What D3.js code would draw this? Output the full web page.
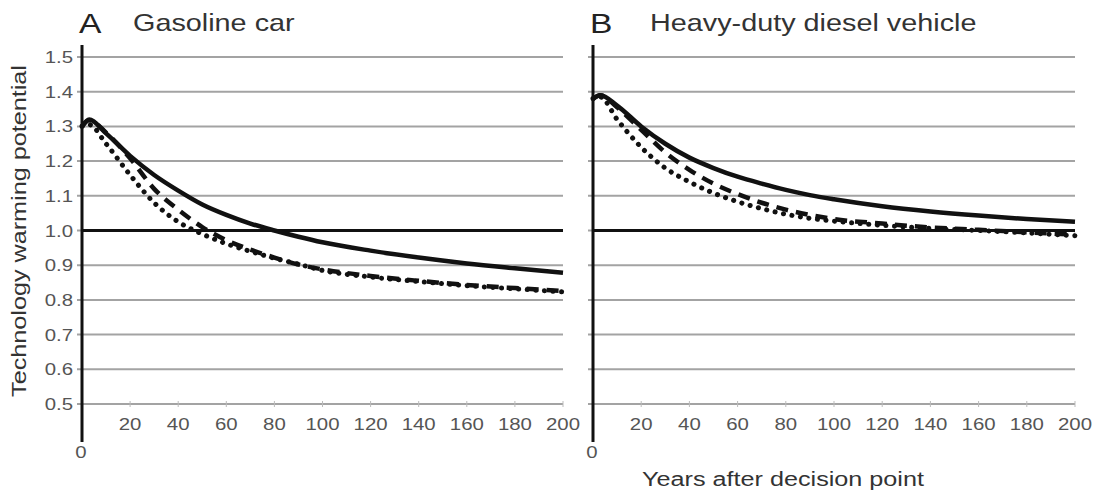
<!DOCTYPE html>
<html lang="en">
<head>
<meta charset="UTF-8">
<title>Technology warming potential</title>
<script src="https://cdnjs.cloudflare.com/ajax/libs/d3/7.8.5/d3.min.js"></script>
<style>
  body { margin: 0; background: #fff; }
  svg text { font-family: "Liberation Sans", Arial, sans-serif; }
</style>
</head>
<body>
<svg id="chart" width="1094" height="492"></svg>
<script>
// years after decision point
var years = [0, 3, 10, 20, 30, 40, 50, 60, 70, 80, 90, 100, 120, 140, 160, 180, 200];

// A: gasoline car
var gasSolid  = [1.30, 1.32, 1.28, 1.215, 1.16, 1.115, 1.075, 1.045, 1.02, 1.0, 0.982, 0.966, 0.942, 0.922, 0.905, 0.891, 0.878];
var gasDashed = [1.30, 1.318, 1.282, 1.208, 1.12, 1.06, 1.01, 0.972, 0.945, 0.922, 0.902, 0.888, 0.869, 0.855, 0.843, 0.834, 0.826];
var gasDotted = [1.30, 1.305, 1.25, 1.16, 1.08, 1.025, 0.99, 0.962, 0.94, 0.92, 0.903, 0.885, 0.866, 0.853, 0.841, 0.832, 0.823];

// B: heavy-duty diesel vehicle
var hdvSolid  = [1.38, 1.39, 1.36, 1.30, 1.25, 1.21, 1.18, 1.155, 1.135, 1.117, 1.102, 1.09, 1.07, 1.055, 1.043, 1.033, 1.025];
var hdvDashed = [1.38, 1.39, 1.355, 1.29, 1.225, 1.175, 1.135, 1.105, 1.08, 1.06, 1.045, 1.033, 1.02, 1.009, 1.002, 0.995, 0.988];
var hdvDotted = [1.38, 1.385, 1.32, 1.24, 1.18, 1.14, 1.108, 1.083, 1.063, 1.047, 1.035, 1.027, 1.015, 1.006, 1.0, 0.993, 0.985];

var yTicks = [0.5, 0.6, 0.7, 0.8, 0.9, 1.0, 1.1, 1.2, 1.3, 1.4, 1.5];
var xTicks = [20, 40, 60, 80, 100, 120, 140, 160, 180, 200];

var svg = d3.select('#chart');
var y = d3.scaleLinear().domain([0.5, 1.5]).range([404, 57]);
var sx = 1.2; // the original lettering is wider than Arial

function label(x, yy, str, size, anchor, color, rot) {
  return svg.append('text')
    .attr('transform', 'translate(' + x + ',' + yy + ')' + (rot ? ' rotate(' + rot + ')' : '') + ' scale(' + sx + ',1)')
    .attr('text-anchor', anchor)
    .attr('font-size', size)
    .attr('fill', color)
    .text(str);
}

function panel(x0, x1, letter, solid, dashed, dotted) {
  var x = d3.scaleLinear().domain([0, 200]).range([x0, x1]);
  var g = svg.append('g');

  // gridlines
  g.selectAll('.grid').data(yTicks).enter().append('line')
    .attr('x1', x(0) - 5).attr('x2', x(200))
    .attr('y1', function(d) { return y(d); })
    .attr('y2', function(d) { return y(d); })
    .attr('stroke', '#a3a3a3').attr('stroke-width', 2);

  // small ticks on the bottom line
  g.selectAll('.xt').data(xTicks).enter().append('line')
    .attr('x1', function(d) { return x(d); })
    .attr('x2', function(d) { return x(d); })
    .attr('y1', y(0.5) - 3).attr('y2', y(0.5) + 3)
    .attr('stroke', '#bbb').attr('stroke-width', 1);

  // reference line at 1.0
  g.append('line')
    .attr('x1', x(0)).attr('x2', x(200))
    .attr('y1', y(1)).attr('y2', y(1))
    .attr('stroke', '#111').attr('stroke-width', 3);

  var line = d3.line()
    .x(function(d, i) { return x(years[i]); })
    .y(function(d) { return y(d); })
    .curve(d3.curveMonotoneX);

  g.append('path').attr('d', line(dotted))
    .attr('fill', 'none').attr('stroke', '#111').attr('stroke-width', 5)
    .attr('stroke-linecap', 'round').attr('stroke-dasharray', '0.1 8.5');
  g.append('path').attr('d', line(dashed))
    .attr('fill', 'none').attr('stroke', '#111').attr('stroke-width', 4.5)
    .attr('stroke-dasharray', '12 8');
  g.append('path').attr('d', line(solid))
    .attr('fill', 'none').attr('stroke', '#111').attr('stroke-width', 4.5);

  // vertical axis
  g.append('line')
    .attr('x1', x(0)).attr('x2', x(0))
    .attr('y1', 45).attr('y2', 442)
    .attr('stroke', '#111').attr('stroke-width', 3);

  // x tick labels
  xTicks.forEach(function(t) {
    label(x(t), 430, String(t), 17, 'middle', '#555');
  });
  label(x(0) - 1, 458, '0', 17, 'middle', '#555');

  label(x(0) - 3, 33, letter, 28, 'start', '#222');
  return x;
}

panel(82, 563, 'A', gasSolid, gasDashed, gasDotted);
panel(593, 1075, 'B', hdvSolid, hdvDashed, hdvDotted);

label(133, 31, 'Gasoline car', 24, 'start', '#333');
label(650, 31, 'Heavy-duty diesel vehicle', 24, 'start', '#333');

// y tick labels (left panel only)
yTicks.forEach(function(t) {
  label(73, y(t) + 6, t.toFixed(1), 17, 'end', '#555');
});

label(26, 231, 'Technology warming potential', 21, 'middle', '#333', -90);
label(783, 486, 'Years after decision point', 21, 'middle', '#333');
</script>
</body>
</html>
